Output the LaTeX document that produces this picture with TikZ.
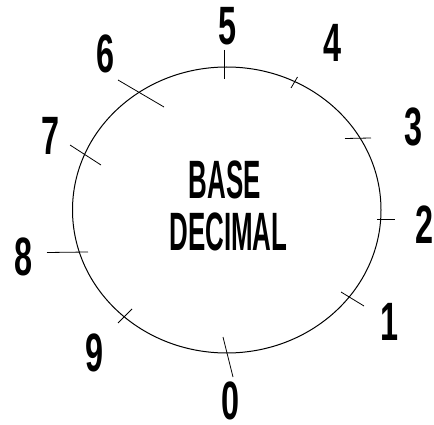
\documentclass[tikz,border=0pt]{standalone}
\usepackage{fontspec}
\setmainfont{Liberation Sans}[BoldFont={Liberation Sans Bold}]
\newcommand\condtxt[2]{\scalebox{#1}[1]{#2}}
\begin{document}
\begin{tikzpicture}[x=1pt,y=-1pt,
  digit/.style={inner sep=0pt,anchor=base,font=\fontsize{54}{56}\selectfont\bfseries},
  title/.style={inner sep=0pt,anchor=base,font=\fontsize{54}{56}\selectfont\bfseries},
  tick/.style={line width=0.8pt,black},
  rim/.style={line width=1pt,black}]
\useasboundingbox (0,0) rectangle (434,425);
% circle
\draw[rim] (226.75,210) ellipse [x radius=154.25pt, y radius=143pt];
% tick coordinates
\coordinate (t5a) at (224.5,50);  \coordinate (t5b) at (224.5,79);
\coordinate (t4a) at (291,88);    \coordinate (t4b) at (297.5,77);
\coordinate (t3a) at (345,138.5); \coordinate (t3b) at (371,138);
\coordinate (t2a) at (377,219);   \coordinate (t2b) at (395,219);
\coordinate (t1a) at (341,292);   \coordinate (t1b) at (364,306);
\coordinate (t0a) at (223,337);   \coordinate (t0b) at (233,377);
\coordinate (t9a) at (118,323);   \coordinate (t9b) at (132,309);
\coordinate (t8a) at (47,252.5);  \coordinate (t8b) at (88,252);
\coordinate (t7a) at (70,145);    \coordinate (t7b) at (101,165);
\coordinate (t6a) at (118,80);    \coordinate (t6b) at (164,107);
\foreach \k in {0,...,9} {\draw[tick] (t\k a) -- (t\k b);}
% labels
\node[digit] (l5) at (228,45)  {\condtxt{0.6}{5}};
\node[digit] (l4) at (333,62)  {\condtxt{0.6}{4}};
\node[digit] (l3) at (414,146) {\condtxt{0.6}{3}};
\node[digit] (l2) at (424.5,243) {\condtxt{0.6}{2}};
\node[digit] (l1) at (390,340) {\condtxt{0.6}{1}};
\node[digit] (l0) at (231,419) {\condtxt{0.6}{0}};
\node[digit] (l9) at (94.5,371) {\condtxt{0.6}{9}};
\node[digit] (l8) at (24,275)  {\condtxt{0.6}{8}};
\node[digit] (l7) at (50.5,155) {\condtxt{0.6}{7}};
\node[digit] (l6) at (106,73)  {\condtxt{0.6}{6}};
\node[title] (base) at (225,198) {\condtxt{0.48}{BASE}};
\node[title] (dec) at (228.5,250) {\condtxt{0.48}{DECIMAL}};
\end{tikzpicture}
\end{document}
